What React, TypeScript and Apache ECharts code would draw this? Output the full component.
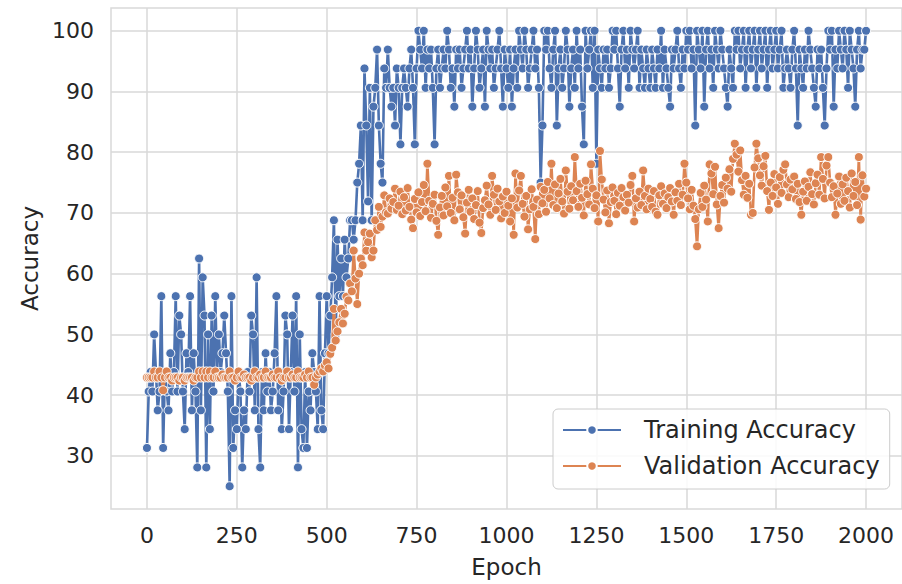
import React, { useEffect, useRef } from "react";
import * as echarts from "echarts";

// Training accuracy (%), logged every 5 epochs from 0 to 2000
const trainAcc: number[] = [
  // 0-95
  31.3, 40.6, 43.8, 40.6, 50, 43.8, 37.5, 40.6, 56.3, 31.3, 43.8, 40.6, 37.5, 46.9, 40.6, 43.8, 56.3, 40.6, 53.1, 50,
  // 100-195
  40.6, 34.4, 46.9, 43.8, 56.3, 37.5, 46.9, 40.6, 28.1, 62.5, 37.5, 59.4, 53.1, 28.1, 50, 34.4, 53.1, 40.6, 56.3, 43.8,
  // 200-295
  50, 43.8, 46.9, 53.1, 46.9, 40.6, 25, 56.3, 31.3, 37.5, 34.4, 43.8, 40.6, 28.1, 37.5, 34.4, 43.8, 40.6, 53.1, 50,
  // 300-395
  37.5, 59.4, 34.4, 28.1, 43.8, 37.5, 46.9, 40.6, 43.8, 37.5, 40.6, 46.9, 56.3, 37.5, 43.8, 34.4, 40.6, 53.1, 50, 34.4,
  // 400-495
  43.8, 53.1, 40.6, 56.3, 28.1, 50, 34.4, 31.3, 43.8, 31.3, 40.6, 37.5, 46.9, 43.8, 40.6, 34.4, 56.3, 37.5, 34.4, 46.9,
  // 500-595
  56.3, 46.9, 53.1, 59.4, 68.8, 50, 65.6, 56.3, 62.5, 56.3, 65.6, 59.4, 62.5, 68.8, 68.8, 65.6, 68.8, 75, 78.1, 84.4,
  // 600-695
  68.8, 93.8, 84.4, 71.9, 90.6, 68.8, 87.5, 90.6, 96.9, 84.4, 78.1, 75, 93.8, 90.6, 96.9, 90.6, 87.5, 90.6, 84.4, 93.8,
  // 700-795
  90.6, 81.3, 90.6, 93.8, 90.6, 87.5, 93.8, 96.9, 90.6, 81.3, 93.8, 100, 96.9, 93.8, 100, 90.6, 96.9, 93.8, 96.9, 90.6,
  // 800-895
  81.3, 93.8, 96.9, 90.6, 93.8, 96.9, 93.8, 100, 96.9, 90.6, 93.8, 87.5, 96.9, 93.8, 96.9, 90.6, 93.8, 96.9, 100, 93.8,
  // 900-995
  96.9, 87.5, 93.8, 100, 96.9, 90.6, 93.8, 96.9, 87.5, 100, 96.9, 93.8, 96.9, 90.6, 93.8, 96.9, 100, 93.8, 87.5, 96.9,
  // 1000-1095
  93.8, 90.6, 96.9, 87.5, 93.8, 96.9, 90.6, 100, 96.9, 93.8, 100, 96.9, 90.6, 93.8, 96.9, 100, 93.8, 96.9, 90.6, 75,
  // 1100-1195
  84.4, 100, 96.9, 100, 93.8, 90.6, 96.9, 100, 84.4, 93.8, 96.9, 90.6, 93.8, 100, 96.9, 87.5, 93.8, 96.9, 90.6, 100,
  // 1200-1295
  93.8, 96.9, 87.5, 81.3, 100, 93.8, 96.9, 100, 90.6, 100, 78.1, 96.9, 93.8, 90.6, 96.9, 93.8, 96.9, 90.6, 93.8, 100,
  // 1300-1395
  96.9, 100, 93.8, 87.5, 96.9, 100, 93.8, 96.9, 90.6, 100, 96.9, 93.8, 96.9, 100, 90.6, 96.9, 93.8, 90.6, 96.9, 93.8,
  // 1400-1495
  90.6, 96.9, 93.8, 90.6, 96.9, 93.8, 100, 90.6, 96.9, 93.8, 90.6, 87.5, 96.9, 93.8, 96.9, 100, 93.8, 90.6, 96.9, 93.8,
  // 1500-1595
  100, 96.9, 100, 93.8, 96.9, 84.4, 100, 96.9, 93.8, 100, 87.5, 96.9, 100, 93.8, 96.9, 90.6, 100, 96.9, 93.8, 100,
  // 1600-1695
  96.9, 93.8, 90.6, 87.5, 96.9, 93.8, 90.6, 100, 96.9, 100, 93.8, 96.9, 100, 90.6, 96.9, 100, 93.8, 96.9, 100, 90.6,
  // 1700-1795
  96.9, 100, 93.8, 96.9, 100, 90.6, 96.9, 100, 93.8, 96.9, 100, 93.8, 96.9, 100, 90.6, 93.8, 96.9, 93.8, 90.6, 96.9,
  // 1800-1895
  100, 93.8, 84.4, 96.9, 93.8, 90.6, 96.9, 93.8, 100, 96.9, 93.8, 90.6, 87.5, 96.9, 93.8, 96.9, 90.6, 84.4, 93.8, 100,
  // 1900-2000
  96.9, 100, 87.5, 96.9, 93.8, 100, 96.9, 93.8, 100, 96.9, 90.6, 100, 96.9, 93.8, 87.5, 96.9, 100, 93.8, 96.9, 96.9, 100,
];

// Validation accuracy (%), logged every 5 epochs from 0 to 2000
const valAcc: number[] = [
  // 0-95
  42.9, 42.9, 42.9, 42.9, 43.9, 42.9, 42.9, 43.9, 42.9, 40.8, 42.9, 43.9, 42.9, 42.9, 42.4, 42.9, 42.9, 42.9, 42.4, 42.9,
  // 100-195
  42.9, 42.4, 42.9, 42.9, 42.9, 42.9, 42.4, 42.9, 42.9, 43.9, 42.9, 43.9, 42.9, 43.9, 42.9, 43.9, 42.9, 42.9, 43.9, 42.9,
  // 200-295
  42.9, 42.9, 43.4, 42.9, 42.9, 42.9, 43.9, 42.9, 42.9, 42.4, 42.9, 43.9, 42.9, 42.9, 43.4, 42.9, 42.9, 42.9, 42.4, 42.9,
  // 300-395
  43.9, 42.9, 42.9, 43.4, 42.9, 42.9, 43.9, 42.9, 42.9, 42.9, 43.4, 42.9, 42.9, 43.9, 42.9, 42.4, 42.9, 42.9, 43.9, 42.9,
  // 400-495
  42.9, 43.4, 42.9, 42.9, 43.9, 42.9, 42.9, 42.9, 43.4, 42.9, 43.9, 42.9, 42.9, 41.7, 42.9, 43.4, 43.9, 44.4, 43.9, 44.9,
  // 500-595
  45.4, 44.4, 46.8, 47.8, 54.2, 49.0, 50.5, 52.0, 54.2, 51.8, 53.4, 56.2, 55.6, 58.4, 57.1, 63.8, 59.2, 55.0, 60.0, 62.5,
  // 600-695
  61.4, 66.8, 63.8, 65.2, 66.6, 62.7, 63.8, 68.8, 67.2, 71.0, 67.7, 69.4, 72.9, 70.1, 69.9, 72.4, 70.7, 71.8, 74.0, 70.5,
  // 700-795
  71.2, 73.5, 69.8, 72.6, 70.4, 74.1, 71.0, 68.9, 67.5, 72.3, 70.1, 73.4, 69.5, 71.8, 74.6, 70.3, 78.1, 72.0, 69.2, 71.5,
  // 800-895
  73.0, 68.7, 66.4, 70.9, 72.8, 69.6, 74.2, 71.1, 76.1, 70.0, 72.5, 68.8, 76.3, 73.4, 70.6, 72.9, 69.3, 66.6, 71.7, 73.8,
  // 900-995
  70.2, 72.4, 69.0, 71.3, 73.6, 68.4, 66.7, 70.8, 72.1, 74.5, 71.4, 69.7, 76.1, 73.0, 70.5, 74.0, 71.9, 69.1, 72.7, 70.0,
  // 1000-1095
  73.5, 71.2, 68.6, 72.4, 66.4, 76.5, 70.9, 73.7, 76.1, 71.5, 69.4, 72.8, 67.3, 70.6, 73.9, 71.0, 65.7, 72.2, 69.8, 74.3,
  // 1100-1195
  71.6, 73.8, 70.2, 75.1, 72.4, 78.1, 71.3, 74.7, 70.8, 73.2, 75.6, 71.9, 69.9, 77.0, 73.5, 70.7, 74.4, 72.1, 79.2, 73.6,
  // 1200-1295
  71.0, 74.8, 72.5, 69.6, 75.3, 73.1, 71.4, 78.0, 74.0, 70.8, 72.9, 68.6, 80.2, 75.5, 72.2, 70.1, 73.7, 68.3, 71.8, 74.2,
  // 1300-1395
  72.0, 69.8, 73.3, 71.2, 74.1, 72.6, 70.4, 73.0, 71.7, 74.6, 76.1, 68.6, 72.4, 70.9, 73.5, 71.3, 77.0, 72.8, 70.6, 74.0,
  // 1400-1495
  72.3, 71.0, 73.6, 70.2, 69.7, 72.9, 74.4, 71.5, 73.2, 70.8, 72.6, 74.1, 71.9, 69.7, 73.4, 72.0, 74.8, 71.3, 73.0, 78.1,
  // 1500-1595
  75.0, 72.4, 70.6, 73.8, 71.2, 69.0, 64.5, 70.6, 73.3, 71.0, 74.5, 72.2, 68.6, 78.0, 76.5, 73.1, 77.6, 71.4, 67.5, 72.8,
  // 1600-1695
  74.6, 71.7, 75.8, 74.0, 77.2, 73.5, 78.9, 81.4, 79.6, 76.8, 80.3, 75.4, 73.0, 76.1, 72.5, 74.8, 69.7, 70.0, 77.5, 81.4,
  // 1700-1795
  79.0, 76.2, 74.5, 77.7, 79.4, 73.6, 70.5, 75.0, 72.8, 76.4, 74.2, 71.5, 75.9, 73.3, 77.1, 78.0, 74.7, 72.6, 75.5, 73.9,
  // 1800-1895
  76.0, 72.3, 74.8, 71.8, 69.7, 73.5, 75.2, 72.0, 74.3, 76.7, 73.1, 71.4, 74.9, 76.3, 73.0, 79.2, 75.6, 72.4, 77.8, 79.2,
  // 1900-2000
  75.0, 72.6, 74.4, 69.7, 73.2, 76.0, 71.5, 74.7, 72.0, 75.8, 73.6, 70.9, 76.5, 72.8, 75.1, 71.3, 79.2, 68.9, 76.2, 72.7, 74.0,
];

const EPOCH_STEP = 5;
const epochs: number[] = trainAcc.map((_, i) => i * EPOCH_STEP);

const xTicks = [0, 250, 500, 750, 1000, 1250, 1500, 1750, 2000];
const yTicks = [30, 40, 50, 60, 70, 80, 90, 100];

const seriesNames = ["Training Accuracy", "Validation Accuracy"];

const FONT = "DejaVu Sans";
const TEXT = "#262626";
const GRID = "#d9d9d9";
const BLUE = "#4c72b0";
const ORANGE = "#dd8452";

export default function App() {
  const ref = useRef<HTMLDivElement>(null);

  useEffect(() => {
    if (!ref.current) return;
    const chart = echarts.init(ref.current, undefined, { renderer: "svg" });
    const mk = (vals: number[]) => vals.map((v, i) => [epochs[i], v]);
    chart.setOption({
      animation: false,
      backgroundColor: "#ffffff",
      textStyle: { fontFamily: FONT },
      grid: {
        left: 111,
        top: 8,
        width: 793,
        height: 501,
        show: true,
        borderColor: GRID,
        borderWidth: 1.5,
        backgroundColor: "#ffffff",
      },
      xAxis: {
        type: "value",
        min: -100,
        max: 2100,
        name: "Epoch",
        nameLocation: "middle",
        nameGap: 46,
        nameTextStyle: { fontSize: 23, color: TEXT, fontFamily: FONT },
        axisLine: { show: false },
        axisTick: { show: false, customValues: xTicks },
        axisLabel: {
          customValues: xTicks,
          formatter: (v: number) => String(v),
          fontSize: 22,
          color: TEXT,
          fontFamily: FONT,
          margin: 15,
        },
        splitLine: { show: true, lineStyle: { color: GRID, width: 1.5 } },
      },
      yAxis: {
        type: "value",
        min: 21.25,
        max: 103.75,
        name: "Accuracy",
        nameLocation: "middle",
        nameGap: 66,
        nameTextStyle: { fontSize: 23, color: TEXT, fontFamily: FONT },
        axisLine: { show: false },
        axisTick: { show: false, customValues: yTicks },
        axisLabel: {
          customValues: yTicks,
          formatter: (v: number) => String(v),
          fontSize: 22,
          color: TEXT,
          fontFamily: FONT,
          margin: 17,
        },
        splitLine: { show: true, lineStyle: { color: GRID, width: 1.5 } },
      },
      legend: {
        orient: "vertical",
        left: 553,
        top: 409,
        itemWidth: 58,
        itemHeight: 12,
        itemGap: 12,
        padding: [9, 10, 11, 9],
        backgroundColor: "rgba(255,255,255,0.85)",
        borderColor: "#cccccc",
        borderWidth: 1,
        borderRadius: 5,
        textStyle: { fontSize: 24, color: TEXT, fontFamily: FONT, padding: [0, 0, 0, 18] },
        data: seriesNames,
      },
      series: [
        {
          name: seriesNames[0],
          type: "line",
          data: mk(trainAcc),
          showAllSymbol: true,
          symbol: "circle",
          symbolSize: 9,
          color: BLUE,
          lineStyle: { color: BLUE, width: 2.6 },
          itemStyle: { color: BLUE, borderColor: "#ffffff", borderWidth: 1 },
          z: 2,
        },
        {
          name: seriesNames[1],
          type: "line",
          data: mk(valAcc),
          showAllSymbol: true,
          symbol: "circle",
          symbolSize: 9,
          color: ORANGE,
          lineStyle: { color: ORANGE, width: 2.6 },
          itemStyle: { color: ORANGE, borderColor: "#ffffff", borderWidth: 1 },
          z: 3,
        },
      ],
    });
    return () => chart.dispose();
  }, []);

  return (
    <div
      ref={ref}
      style={{ position: "fixed", left: 0, top: 0, width: 902, height: 584, background: "#fff" }}
    />
  );
}
